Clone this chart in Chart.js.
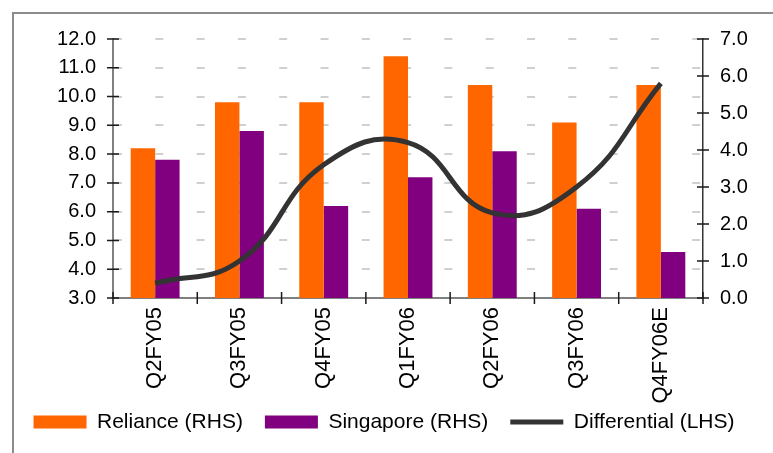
<!DOCTYPE html>
<html>
<head>
<meta charset="utf-8">
<script src="https://cdn.jsdelivr.net/npm/chart.js@4.4.1/dist/chart.umd.min.js"></script>
<style>
  html, body { margin: 0; padding: 0; background: #fff; }
  #wrap { position: relative; width: 773px; height: 453px; overflow: hidden; }
  #frame { position: absolute; left: 12px; top: 12px; width: 800px; height: 500px;
           border-top: 2px solid #8c8c8c; border-left: 2px solid #8c8c8c; box-sizing: border-box; }
  canvas { position: absolute; left: 0; top: 0; }
</style>
</head>
<body>
<div id="wrap">
  <div id="frame"></div>
  <canvas id="c" width="773" height="453"></canvas>
</div>
<script>
// Quarterly refining margins (US$/bbl)
const categories = ['Q2FY05', 'Q3FY05', 'Q4FY05', 'Q1FY06', 'Q2FY06', 'Q3FY06', 'Q4FY06E'];
const reliance   = [8.2, 9.8, 9.8, 11.4, 10.4, 9.1, 10.4];
const singapore  = [7.8, 8.8, 6.2, 7.2, 8.1, 6.1, 4.6];
const differential = [0.4, 1.0, 3.6, 4.2, 2.3, 3.0, 5.8];

const leftTicks  = { min: 3, max: 12, step: 1 };
const rightTicks = { min: 0, max: 7, step: 1 };

Chart.defaults.font.family = '"Liberation Sans", Arial, sans-serif';
Chart.defaults.color = '#000';

// short tick marks that cross each axis line
const crossTicks = {
  id: 'crossTicks',
  beforeDraw(chart) {
    // let the long category labels run past the axis box
    chart.scales.x._computeLabelArea = () => undefined;
  },
  afterDraw(chart) {
    const ctx = chart.ctx;
    const area = chart.chartArea;
    const half = 6;
    ctx.save();
    ctx.strokeStyle = '#1a1a1a';
    ctx.lineWidth = 1.5;
    ctx.beginPath();
    const yl = chart.scales.y;
    yl.ticks.forEach(t => {
      const y = yl.getPixelForValue(t.value);
      ctx.moveTo(area.left - half, y); ctx.lineTo(area.left + half, y);
    });
    const yr = chart.scales.y2;
    yr.ticks.forEach(t => {
      const y = yr.getPixelForValue(t.value);
      ctx.moveTo(area.right - half, y); ctx.lineTo(area.right + half, y);
    });
    const xs = chart.scales.x;
    for (let i = 0; i <= categories.length; i++) {
      const x = xs.getPixelForValue(i - 0.5);
      ctx.moveTo(x, area.bottom - half); ctx.lineTo(x, area.bottom + half);
    }
    ctx.stroke();
    ctx.restore();
  }
};

new Chart(document.getElementById('c'), {
  data: {
    labels: categories,
    datasets: [
      { type: 'bar', label: 'Reliance (RHS)', data: reliance, backgroundColor: '#ff6600',
        yAxisID: 'y', order: 1, categoryPercentage: 0.58, barPercentage: 1.0 },
      { type: 'bar', label: 'Singapore (RHS)', data: singapore, backgroundColor: '#800080',
        yAxisID: 'y', order: 2, categoryPercentage: 0.58, barPercentage: 1.0 },
      { type: 'line', label: 'Differential (LHS)', data: differential, borderColor: '#333333',
        backgroundColor: '#333333', borderWidth: 5, pointRadius: 0, tension: 0.45,
        yAxisID: 'y2', order: 0 }
    ]
  },
  options: {
    responsive: false,
    animation: false,
    events: [],
    layout: { padding: { left: 0, right: 5, top: 39, bottom: 10.5 } },
    plugins: {
      tooltip: { enabled: false },
      legend: {
        position: 'bottom',
        labels: {
          font: { size: 21 },
          usePointStyle: true,
          pointStyleWidth: 53,
          boxHeight: 13,
          padding: 22,
          generateLabels(chart) {
            const items = Chart.defaults.plugins.legend.labels.generateLabels(chart);
            items.forEach(it => {
              const ds = chart.data.datasets[it.datasetIndex];
              if (ds.type === 'line') {
                it.pointStyle = 'line'; it.lineWidth = 5; it.strokeStyle = '#333333';
              } else {
                it.pointStyle = 'rect'; it.lineWidth = 0; it.fillStyle = ds.backgroundColor;
              }
            });
            return items.sort((a, b) => a.datasetIndex - b.datasetIndex);
          }
        }
      }
    },
    scales: {
      x: {
        grid: { display: false, drawTicks: false },
        border: { display: true, color: '#808080', width: 2 },
        ticks: { font: { size: 22 }, minRotation: 90, maxRotation: 90, padding: 9 },
        afterFit(scale) { scale.height = 91.5; }
      },
      y: {
        position: 'left',
        min: leftTicks.min, max: leftTicks.max,
        ticks: { stepSize: leftTicks.step, font: { size: 20 }, padding: 17,
                 callback: v => v.toFixed(1) },
        grid: { color: '#d0d0d0', lineWidth: 2, drawTicks: false },
        border: { display: true, color: '#808080', width: 2, dash: [8, 33.3], dashOffset: 0 },
        afterFit(scale) { scale.width = 113; }
      },
      y2: {
        position: 'right',
        min: rightTicks.min, max: rightTicks.max,
        ticks: { stepSize: rightTicks.step, font: { size: 20 }, padding: 17,
                 callback: v => v.toFixed(1) },
        grid: { drawOnChartArea: false, drawTicks: false },
        border: { display: true, color: '#333333', width: 1.5 },
        afterFit(scale) { scale.width = 65; }
      }
    }
  },
  plugins: [crossTicks]
});
</script>
</body>
</html>
